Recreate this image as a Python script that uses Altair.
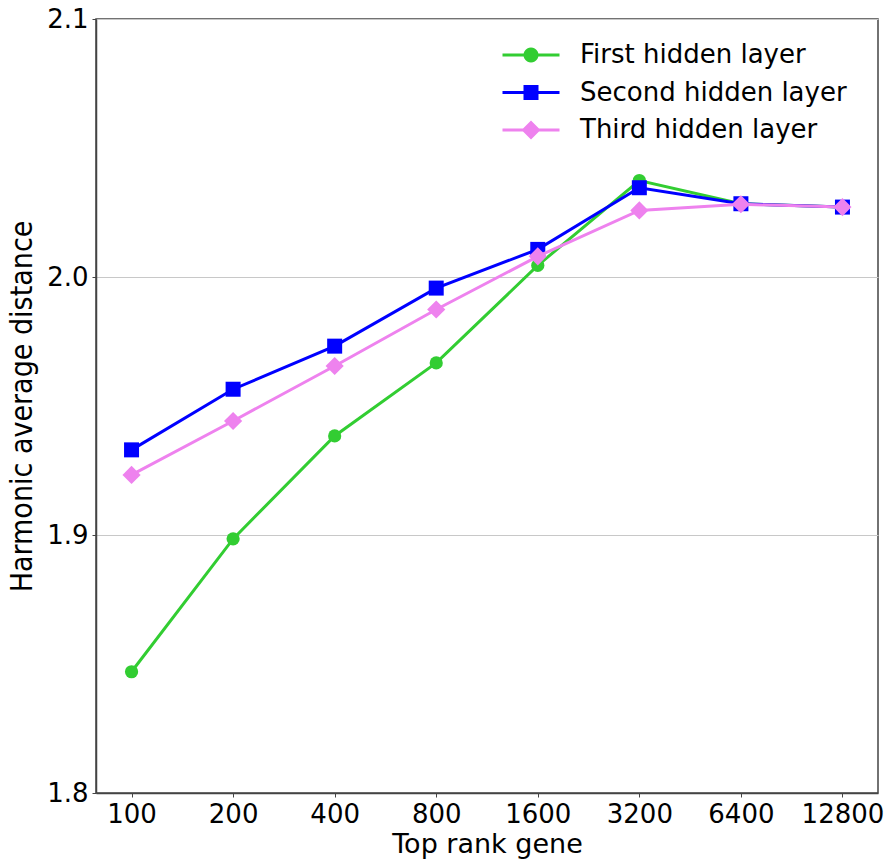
import math
import altair as alt
import pandas as pd

genes = ["100", "200", "400", "800", "1600", "3200", "6400", "12800"]
series_names = ["First hidden layer", "Second hidden layer", "Third hidden layer"]
first_layer = [1.847, 1.8985, 1.9384, 1.9667, 2.0045, 2.0374, 2.0284, 2.0271]
second_layer = [1.933, 1.9565, 1.9732, 1.9957, 2.0107, 2.0346, 2.0284, 2.0271]
third_layer = [1.9233, 1.9442, 1.9655, 1.9874, 2.0080, 2.0258, 2.0282, 2.0271]
colors = ["#32CD32", "#0000FF", "#EE82EE"]
marker_shapes = ["circle", "square", "diamond"]
marker_sizes = [175, 225, 330]

rows = []
for name, vals in zip(series_names, [first_layer, second_layer, third_layer]):
    for g, v in zip(genes, vals):
        rows.append({"gene": g, "value": v, "series": name})
df = pd.DataFrame(rows)

# legend symbols: line segment + marker drawn as one polygon path (1 unit = 10px)
def poly(pts):
    return "M" + " L".join(f"{x:.3f},{y:.3f}" for x, y in pts) + " Z"

line_path = poly([(-2.85, -0.15), (2.85, -0.15), (2.85, 0.15), (-2.85, 0.15)])
circle_path = poly([(0.75 * math.cos(2 * math.pi * k / 24), 0.75 * math.sin(2 * math.pi * k / 24)) for k in range(24)])
square_path = poly([(-0.75, -0.75), (0.75, -0.75), (0.75, 0.75), (-0.75, 0.75)])
diamond_path = poly([(0, -0.95), (0.95, 0), (0, 0.95), (-0.95, 0)])
legend_paths = [
    line_path + " " + circle_path,
    line_path + " " + square_path,
    line_path + " " + diamond_path,
]

x_enc = alt.X(
    "gene:O",
    sort=genes,
    scale=alt.Scale(type="point", padding=0.35),
    axis=alt.Axis(title="Top rank gene", labelAngle=0, grid=False, titlePadding=4),
)
y_enc = alt.Y(
    "value:Q",
    scale=alt.Scale(domain=[1.8, 2.1], nice=False, zero=False),
    axis=alt.Axis(
        title="Harmonic average distance",
        values=[1.8, 1.9, 2.0, 2.1],
        format=".1f",
        grid=True,
        titleFont="DejaVu Sans Condensed",
        titleFontSize=30,
        titlePadding=9,
    ),
)

base = alt.Chart(df)
layers = []
for name, col, shp, sz in zip(series_names, colors, marker_shapes, marker_sizes):
    sub = base.transform_filter(alt.datum.series == name)
    layers.append(sub.mark_line(strokeWidth=3, color=col).encode(x=x_enc, y=y_enc))
    layers.append(
        sub.mark_point(shape=shp, filled=True, size=sz, opacity=1, strokeWidth=0, color=col).encode(
            x=x_enc, y=y_enc
        )
    )

legend_def = alt.Legend(
    title=None,
    orient="none",
    legendX=422,
    legendY=23,
    symbolSize=400,
    symbolStrokeWidth=0,
    symbolOpacity=1,
    labelFontSize=26,
    labelFont="DejaVu Sans",
    labelColor="black",
    labelOffset=36,
    rowPadding=11.5,
    padding=0,
    labelLimit=400,
)

legend_layer = base.transform_filter("false").mark_point(filled=True, opacity=1).encode(
    x=x_enc,
    y=y_enc,
    color=alt.Color("series:N", scale=alt.Scale(domain=series_names, range=colors), legend=legend_def),
    shape=alt.Shape(
        "series:N",
        scale=alt.Scale(domain=series_names, range=legend_paths),
        legend=legend_def,
    ),
)

chart = (
    alt.layer(*layers, legend_layer)
    .properties(
        width=782,
        height=774,
        autosize=alt.AutoSizeParams(type="none"),
        padding={"left": 96, "top": 19, "right": 10, "bottom": 70},
        background="white",
    )
    .configure_view(stroke="#444444", strokeWidth=1.5)
    .configure_axis(
        labelFont="DejaVu Sans",
        labelFontSize=26,
        labelColor="black",
        titleFont="DejaVu Sans",
        titleFontSize=27,
        titleFontWeight="normal",
        titleColor="black",
        domainColor="#444444",
        domainWidth=1.5,
        tickColor="#444444",
        tickSize=4,
        tickWidth=1,
        labelPadding=4,
        gridColor="#c8c8c8",
        gridWidth=1,
    )
)

chart.save("out.html", embed_options={"renderer": "svg", "actions": False})
